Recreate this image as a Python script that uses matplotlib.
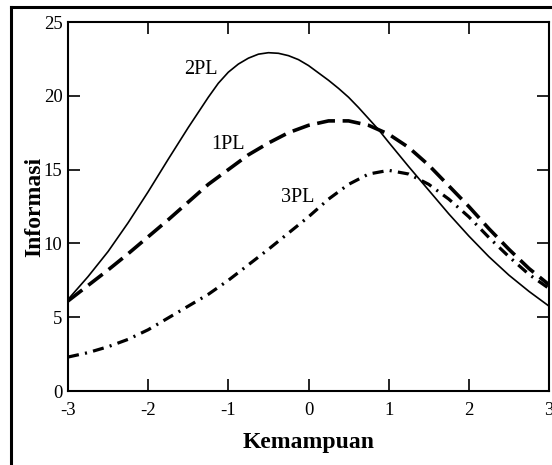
"""Kurva informasi tes 1PL, 2PL, 3PL terhadap kemampuan."""
import matplotlib

matplotlib.use("Agg")
import matplotlib.pyplot as plt
from matplotlib.lines import Line2D

# kemampuan (theta), step 0.25
theta = [-3.0, -2.75, -2.5, -2.25, -2.0, -1.75, -1.5, -1.25, -1.0, -0.75, -0.5, -0.25,
         0.0, 0.25, 0.5, 0.75, 1.0, 1.25, 1.5, 1.75, 2.0, 2.25, 2.5, 2.75, 3.0]
# 2PL read finer around its peak
theta_2pl = [-3.0, -2.75, -2.5, -2.25, -2.0, -1.75, -1.5, -1.25, -1.125, -1.0, -0.875,
             -0.75, -0.625, -0.5, -0.375, -0.25, -0.125, 0.0, 0.125, 0.25, 0.375, 0.5,
             0.625, 0.75, 0.875, 1.0, 1.25, 1.5, 1.75, 2.0, 2.25, 2.5, 2.75, 3.0]

info_2pl = [6.2, 7.75, 9.45, 11.4, 13.5, 15.7, 17.85, 19.9, 20.85, 21.6, 22.15,
            22.55, 22.82, 22.92, 22.88, 22.72, 22.45, 22.05, 21.55, 21.05, 20.5, 19.9,
            19.2, 18.45, 17.7, 16.85, 15.2, 13.6, 12.0, 10.5, 9.1, 7.85, 6.75, 5.75]
info_1pl = [6.1, 7.15, 8.2, 9.3, 10.45, 11.6, 12.8, 14.0, 15.0, 16.0, 16.8, 17.5,
            18.0, 18.3, 18.3, 18.0, 17.4, 16.5, 15.3, 13.9, 12.5, 11.0, 9.6, 8.3, 7.2]
info_3pl = [2.3, 2.6, 3.0, 3.5, 4.15, 4.95, 5.75, 6.55, 7.5, 8.55, 9.6, 10.7,
            11.8, 13.0, 14.0, 14.7, 14.95, 14.7, 14.0, 13.0, 11.8, 10.4, 9.1, 7.9, 6.95]

x_ticks = [-3, -2, -1, 0, 1, 2, 3]
y_ticks = [0, 5, 10, 15, 20, 25]

# curve labels: text, x, y
labels = [("2PL", -1.34, 21.8), ("1PL", -1.0, 16.7), ("3PL", -0.14, 13.1)]


def main() -> None:
    plt.rcParams["font.family"] = ["Liberation Serif", "DejaVu Serif"]
    plt.rcParams["lines.scale_dashes"] = False
    plt.rcParams["axes.unicode_minus"] = False

    fig = plt.figure(figsize=(5.52, 4.65), dpi=100)
    ax = fig.add_axes([68 / 552, 1 - 391 / 465, 481 / 552, 369 / 465])

    ax.plot(theta_2pl, info_2pl, color="black", lw=1.2, solid_capstyle="butt")
    ax.plot(theta, info_1pl, color="black", lw=2.6, linestyle=(0, (13, 5.5)), dash_capstyle="butt")
    ax.plot(theta, info_3pl, color="black", lw=2.3,
            linestyle=(0, (8, 4.5, 1.5, 4.5)), dash_capstyle="butt")

    for txt, x, y in labels:
        ax.text(x, y, txt, fontsize=14.5, ha="center", va="center")

    ax.set_xlim(-3, 3)
    ax.set_ylim(0, 25)
    ax.set_xticks(x_ticks)
    ax.set_yticks(y_ticks)
    ax.tick_params(direction="in", length=8.5, width=1.2, top=True, right=True, labelsize=13.5)
    ax.tick_params(axis="x", pad=8)
    ax.tick_params(axis="y", pad=4)
    for s in ax.spines.values():
        s.set_linewidth(1.5)

    ax.set_xlabel("Kemampuan", fontsize=17, fontweight="bold", labelpad=9.5)
    ax.set_ylabel("Informasi", fontsize=17, fontweight="bold", labelpad=-1)

    # frame of the original figure, cut at the right and bottom
    fig.add_artist(Line2D([11 / 552, 11 / 552], [1 - 7 / 465, -0.1], color="black", lw=2.2,
                          transform=fig.transFigure))
    fig.add_artist(Line2D([11 / 552, 1.1], [1 - 7 / 465, 1 - 7 / 465], color="black", lw=2.2,
                          transform=fig.transFigure))

    fig.savefig("out.png", dpi=100)
    plt.close(fig)


if __name__ == "__main__":
    main()
